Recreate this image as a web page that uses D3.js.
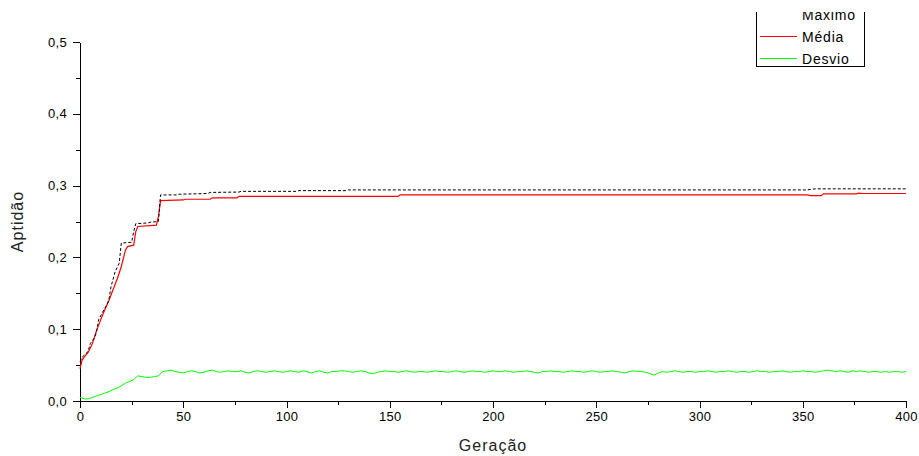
<!DOCTYPE html>
<html><head><meta charset="utf-8">
<script src="https://cdn.jsdelivr.net/npm/d3@7"></script>
<style>body{margin:0;background:#fff}svg{display:block;font-family:"Liberation Sans",Arial,sans-serif}</style>
</head><body><svg id="c" width="919" height="456"></svg>
<script>
// ---- data ----
const seriesNames = ["Maximo", "Média", "Desvio"];
const xTicks = [0, 50, 100, 150, 200, 250, 300, 350, 400];
const yTicks = [0, 0.1, 0.2, 0.3, 0.4, 0.5];
// [geração, aptidão]
const maximo = [[0,0.055],[1,0.061],[3,0.066],[4,0.070],[5,0.080],[7,0.088],[8,0.096],[9,0.113],[11,0.124],[13,0.134],[14,0.141],[15,0.159],[17,0.180],[19,0.192],[20,0.220],[25,0.221],[26,0.236],[27,0.247],[33,0.248],[34,0.249],[38,0.250],[39,0.287],[47,0.287],[48,0.288],[62,0.289],[63,0.2905],[77,0.291],[78,0.292],[105,0.292],[106,0.293],[129,0.293],[130,0.294],[352,0.294],[356,0.2955],[400,0.2955]];
const media = [[0,0.045],[1,0.057],[2,0.061],[4,0.068],[6,0.080],[8,0.098],[10,0.113],[12,0.127],[14,0.140],[16,0.155],[18,0.170],[20,0.187],[22,0.210],[23,0.215],[26,0.217],[27,0.236],[28,0.243],[37,0.245],[38,0.257],[39,0.279],[50,0.280],[51,0.281],[63,0.281],[64,0.283],[76,0.283],[77,0.285],[154,0.285],[155,0.287],[352,0.287],[354,0.286],[359,0.286],[360,0.2885],[376,0.2885],[377,0.2895],[379,0.289],[400,0.289]];
const desvioStep = 2; // one value every 2 generations, from 0 to 400
const desvio = [0.005,0.003,0.003,0.005,0.007,0.009,0.011,0.013,0.016,0.018,0.021,0.025,0.027,0.030,0.035,0.034,0.033,0.033,0.034,0.035,0.041,
0.042,0.043,0.041,0.040,0.039,0.041,0.042,0.041,0.039,0.040,0.042,0.043,0.041,0.040,0.041,0.042,0.041,0.041,0.042,0.040,0.039,0.041,0.042,0.041,0.040,0.041,0.042,0.041,0.040,0.041,
0.042,0.041,0.040,0.042,0.041,0.039,0.041,0.042,0.040,0.039,0.041,0.041,0.042,0.042,0.041,0.040,0.041,0.042,0.041,0.039,0.038,0.040,0.041,0.042,0.041,0.041,0.040,0.041,0.042,0.041,0.040,0.041,0.041,0.040,0.041,0.042,0.041,0.041,0.040,0.041,0.042,0.041,0.040,0.041,0.042,0.041,0.041,0.040,0.041,0.042,
0.041,0.041,0.042,0.041,0.040,0.041,0.041,0.042,0.041,0.040,0.039,0.041,0.041,0.042,0.041,0.041,0.040,0.041,0.042,0.041,0.041,0.040,0.041,0.042,0.041,0.040,0.041,0.041,0.042,0.041,0.040,0.039,0.041,0.042,0.041,0.041,0.040,0.038,0.036,0.039,0.041,0.040,0.041,0.042,0.041,0.040,0.041,0.041,0.040,0.041,
0.041,0.042,0.041,0.040,0.041,0.041,0.042,0.041,0.040,0.041,0.041,0.040,0.041,0.042,0.041,0.041,0.040,0.041,0.041,0.042,0.041,0.040,0.041,0.041,0.042,0.041,0.041,0.040,0.041,0.042,0.043,0.042,0.041,0.042,0.041,0.040,0.042,0.041,0.042,0.041,0.040,0.041,0.041,0.040,0.041,0.040,0.041,0.041,0.040,0.041];

// ---- chart ----
const svg = d3.select("#c");
const x = d3.scaleLinear().domain([0, 400]).range([80, 906]);
const y = d3.scaleLinear().domain([0, 0.5]).range([401, 42]);
const fmtY = v => d3.format(".1f")(v).replace(".", ",");

// minor ticks
svg.append("g").attr("transform", "translate(80,0)")
  .call(d3.axisLeft(y).tickValues([0.05,0.15,0.25,0.35,0.45]).tickSize(4).tickSizeOuter(0).tickFormat(""))
  .call(g => g.select(".domain").remove());
svg.append("g").attr("transform", "translate(0,401)")
  .call(d3.axisBottom(x).tickValues([25,75,125,175,225,275,325,375]).tickSize(4).tickSizeOuter(0).tickFormat(""))
  .call(g => g.select(".domain").remove());

svg.append("g").attr("transform", "translate(80,0)")
  .call(d3.axisLeft(y).tickValues(yTicks).tickSize(7).tickSizeOuter(0).tickPadding(6).tickFormat(fmtY));
svg.append("g").attr("transform", "translate(0,401)")
  .call(d3.axisBottom(x).tickValues(xTicks).tickSize(7).tickSizeOuter(0).tickPadding(4));
svg.selectAll(".tick text").attr("font-size", 13).attr("fill", "#000").attr("letter-spacing", 0.3)
  .attr("font-family", "'Liberation Sans',Arial,sans-serif");
svg.selectAll(".domain,.tick line").attr("stroke", "#000").attr("shape-rendering", "crispEdges");

// lines
const line = d3.line().x(d => x(d[0])).y(d => y(d[1]));
const desvioPts = desvio.map((v, i) => [i * desvioStep, v]);
svg.append("path").datum(desvioPts).attr("d", line).attr("fill", "none").attr("stroke", "#00ff00").attr("stroke-width", 1);
svg.append("path").datum(media).attr("d", line).attr("fill", "none").attr("stroke", "#ff0000").attr("stroke-width", 1.2);
svg.append("path").datum(maximo).attr("d", line).attr("fill", "none").attr("stroke", "#000").attr("stroke-width", 1).attr("stroke-dasharray", "3,2");

// axis titles
svg.append("text").attr("x", x(200)).attr("y", 451).attr("text-anchor", "middle")
  .attr("font-size", 16).attr("letter-spacing", 1).attr("fill", "#222").text("Geração");
svg.append("text").attr("transform", `translate(23,${y(0.25)}) rotate(-90)`).attr("text-anchor", "middle")
  .attr("font-size", 16).attr("letter-spacing", 1).attr("fill", "#222").text("Aptidão");

// legend (clipped at top like the reference)
svg.append("clipPath").attr("id", "lc").append("rect").attr("x", 0).attr("y", 12).attr("width", 919).attr("height", 444);
const lg = svg.append("g").attr("clip-path", "url(#lc)");
lg.append("rect").attr("x", 756.5).attr("y", -20.5).attr("width", 108).attr("height", 87)
  .attr("fill", "#fff").attr("stroke", "#000").attr("shape-rendering", "crispEdges");
const legColors = ["#000", "#ff0000", "#00ff00"];
const rowY = [14.5, 36.5, 58.5];
seriesNames.forEach((n, i) => {
  if (i > 0) lg.append("line").attr("x1", 760).attr("x2", 797).attr("y1", rowY[i]).attr("y2", rowY[i])
    .attr("stroke", legColors[i]).attr("stroke-width", 1);
  lg.append("text").attr("x", 802).attr("y", rowY[i] + 5).attr("font-size", 14).attr("letter-spacing", 0.8).attr("fill", "#000").text(n);
});
</script></body></html>
